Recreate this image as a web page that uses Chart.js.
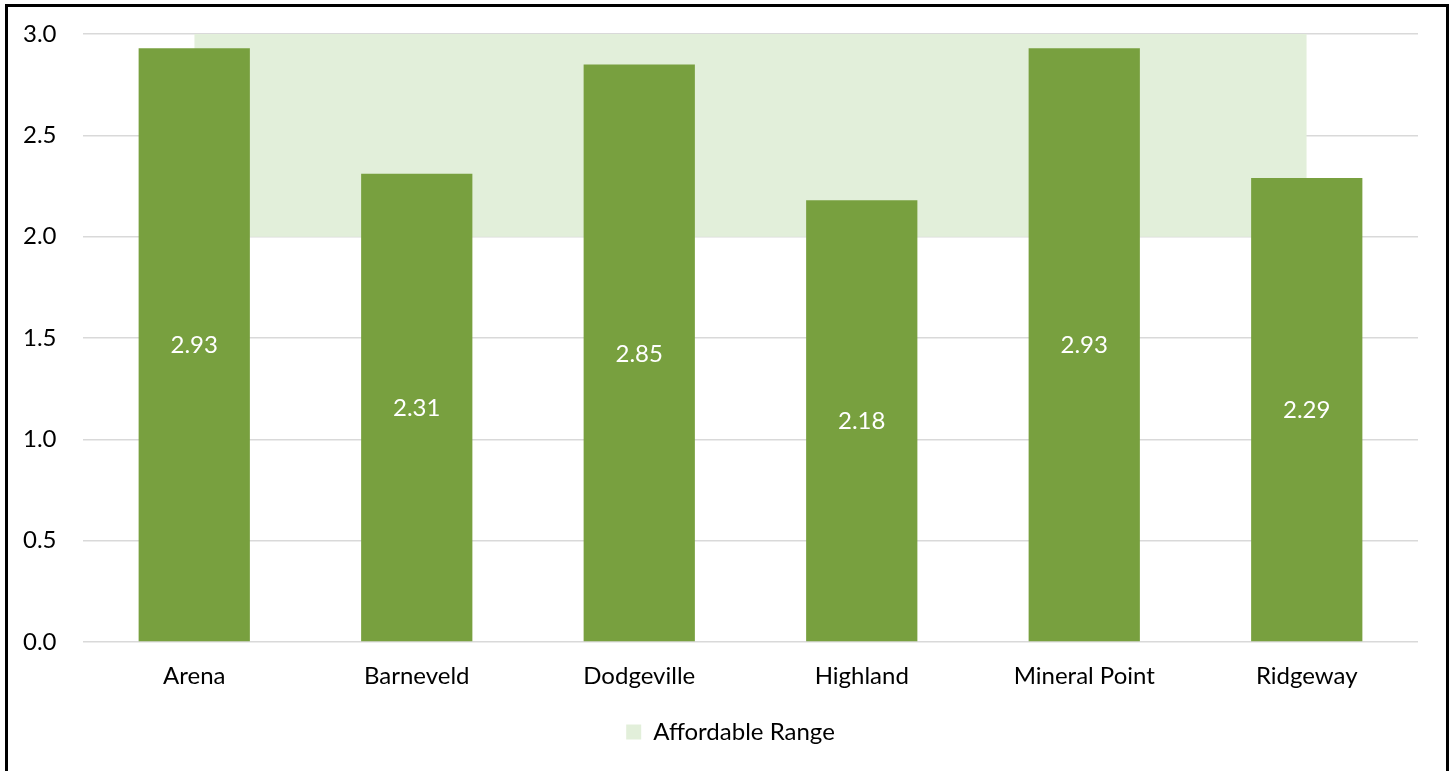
<!DOCTYPE html>
<html>
<head>
<meta charset="utf-8">
<script src="https://cdn.jsdelivr.net/npm/chart.js@4/dist/chart.umd.min.js"></script>
<style>
  html, body { margin: 0; padding: 0; background: #fff; overflow: hidden; }
  #wrap { position: relative; width: 1453px; height: 771px; }
  #chart { position: absolute; left: 0; top: 0; }
  #frame {
    position: absolute; left: 5px; top: 4px; width: 1444px; height: 800px;
    border: 3px solid #000; box-sizing: border-box; pointer-events: none;
  }
</style>
</head>
<body>
<div id="wrap">
  <canvas id="chart" width="1453" height="771"></canvas>
  <div id="frame"></div>
</div>
<script>
// Ratio per school district
const districts = ['Arena', 'Barneveld', 'Dodgeville', 'Highland', 'Mineral Point', 'Ridgeway'];
const ratios = [2.93, 2.31, 2.85, 2.18, 2.93, 2.29];
// Affordable band limits
const rangeLow = [2, 2, 2, 2, 2, 2];
const rangeHigh = [3, 3, 3, 3, 3, 3];
const yTicks = [0, 0.5, 1, 1.5, 2, 2.5, 3];

const FONT = 'Lato, "Open Sans", sans-serif';

// Writes each bar's value in the middle of the bar
const barLabels = {
  id: 'barLabels',
  afterDatasetsDraw(chart) {
    const ctx = chart.ctx;
    const meta = chart.getDatasetMeta(2);
    ctx.save();
    ctx.fillStyle = '#ffffff';
    ctx.font = '24px ' + FONT;
    ctx.textAlign = 'center';
    ctx.textBaseline = 'middle';
    meta.data.forEach((bar, i) => {
      const mid = (bar.y + bar.base) / 2;
      ctx.fillText(ratios[i].toFixed(2), bar.x, mid + 1);
    });
    ctx.restore();
  }
};

// Centres the legend under the framed area rather than the padded canvas
const legendShift = {
  id: 'legendShift',
  afterLayout(chart) {
    const lg = chart.legend;
    if (lg) { lg.left += 10; lg.right += 10; }
  }
};

new Chart(document.getElementById('chart'), {
  data: {
    labels: districts,
    datasets: [
      {
        type: 'line', label: 'low', data: rangeLow,
        borderWidth: 0, pointRadius: 0, fill: false, order: 2,
        borderColor: 'rgba(0,0,0,0)'
      },
      {
        type: 'line', label: 'Affordable Range', data: rangeHigh,
        borderWidth: 0, pointRadius: 0, fill: '-1', order: 1,
        backgroundColor: '#E2EFDA', borderColor: 'rgba(0,0,0,0)'
      },
      {
        type: 'bar', label: 'Ratio', data: ratios,
        backgroundColor: '#78A03F', order: 0,
        barPercentage: 0.5, categoryPercentage: 1.0
      }
    ]
  },
  options: {
    responsive: false,
    animation: false,
    layout: { autoPadding: false, padding: { top: 34, right: 35, left: 23, bottom: 17 } },
    plugins: {
      tooltip: { enabled: false },
      legend: {
        position: 'bottom',
        labels: {
          filter: (item) => item.text === 'Affordable Range',
          boxWidth: 15, boxHeight: 15,
          font: { family: FONT, size: 24 },
          color: '#000',
          padding: 10
        }
      }
    },
    scales: {
      x: {
        grid: { display: false },
        border: { display: false },
        ticks: { font: { family: FONT, size: 24 }, color: '#000', padding: 12 },
        afterFit(scale) { scale.height = 68; }
      },
      y: {
        min: 0, max: 3,
        afterBuildTicks(scale) { scale.ticks = yTicks.map(v => ({ value: v })); },
        grid: { color: '#D9D9D9', lineWidth: 1.5, drawTicks: false },
        border: { display: false },
        ticks: {
          font: { family: FONT, size: 24 }, color: '#000', padding: 0,
          crossAlign: 'far',
          callback: (v) => Number(v).toFixed(1)
        },
        afterFit(scale) { scale.width = 60; }
      }
    }
  },
  plugins: [barLabels, legendShift]
});
</script>
</body>
</html>
